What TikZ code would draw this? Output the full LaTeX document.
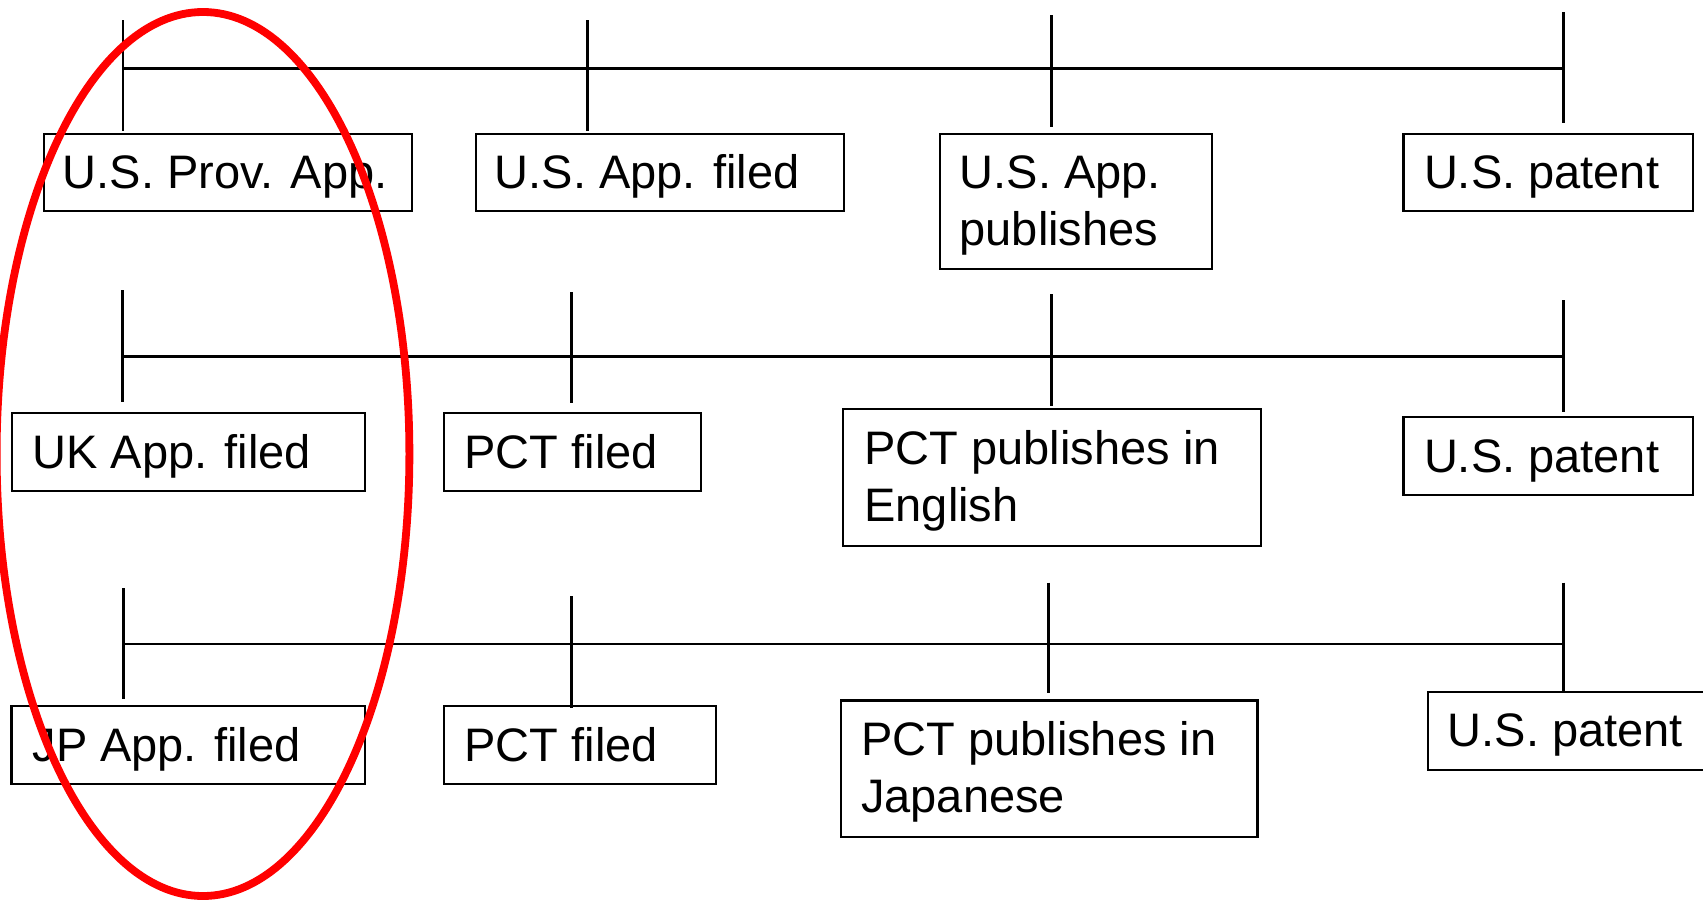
\documentclass[tikz,border=0pt]{standalone}
\usepackage{fontspec}
\setmainfont{Liberation Sans}
\begin{document}
\begin{tikzpicture}[x=1pt,y=-1pt,
  box/.style={draw=black, line width=2.2, inner sep=0, anchor=north west},
  lbl/.style={anchor=base west, inner sep=0, font=\fontsize{47}{56}\selectfont},
  tl/.style={line width=2.6, black},
  ring/.style={draw=red, line width=7.8}]
\useasboundingbox (0,0) rectangle (1703,900);
% ---------- row 1 ----------
\coordinate (r1s) at (123,68.5); \coordinate (r1e) at (1563.5,68.5);
\draw[tl] (r1s) -- (r1e);
\coordinate (t11a) at (123,20);   \coordinate (t11b) at (123,131);
\coordinate (t12a) at (587.5,20); \coordinate (t12b) at (587.5,131);
\coordinate (t13a) at (1051.5,15);\coordinate (t13b) at (1051.5,127);
\coordinate (t14a) at (1563.5,12);\coordinate (t14b) at (1563.5,123);
\draw[tl] (t11a) -- (t11b); \draw[tl] (t12a) -- (t12b);
\draw[tl] (t13a) -- (t13b); \draw[tl] (t14a) -- (t14b);
\node[box, minimum width=368, minimum height=77.5] (a1) at (42.5,132.5) {};
\node[lbl] (a1t) at ([shift={(20,56)}]a1.north west) {U.S. Prov. App.};
\node[box, minimum width=368.5, minimum height=77.5] (a2) at (474.5,132.5) {};
\node[lbl] (a2t) at ([shift={(20,56)}]a2.north west) {U.S. App. filed};
\node[box, minimum width=272.5, minimum height=135] (a3) at (938.5,132.5) {};
\node[lbl] (a3t) at ([shift={(21,56)}]a3.north west) {U.S. App.};
\node[lbl] (a3u) at ([shift={(21,113)}]a3.north west) {publishes};
\node[box, minimum width=289.5, minimum height=77.5] (a4) at (1402.3,132.5) {};
\node[lbl] (a4t) at ([shift={(21.5,56)}]a4.north west) {U.S. patent};
% ---------- row 2 ----------
\coordinate (r2s) at (122.5,356.5); \coordinate (r2e) at (1563.5,356.5);
\draw[tl] (r2s) -- (r2e);
\coordinate (t21a) at (122.5,290);  \coordinate (t21b) at (122.5,401.7);
\coordinate (t22a) at (571.4,292);  \coordinate (t22b) at (571.4,403);
\coordinate (t23a) at (1051.5,294); \coordinate (t23b) at (1051.5,405.7);
\coordinate (t24a) at (1563.5,300); \coordinate (t24b) at (1563.5,411.7);
\draw[tl] (t21a) -- (t21b); \draw[tl] (t22a) -- (t22b);
\draw[tl] (t23a) -- (t23b); \draw[tl] (t24a) -- (t24b);
\node[box, minimum width=353, minimum height=78.3] (b1) at (10.7,411.7) {};
\node[lbl] (b1t) at ([shift={(21.5,56.6)}]b1.north west) {UK App. filed};
\node[box, minimum width=256.7, minimum height=78.3] (b2) at (442.8,411.7) {};
\node[lbl] (b2t) at ([shift={(21.5,56.6)}]b2.north west) {PCT filed};
\node[box, minimum width=417.8, minimum height=137.3] (b3) at (842.2,407.7) {};
\node[lbl] (b3t) at ([shift={(22,56.6)}]b3.north west) {PCT publishes in};
\node[lbl] (b3u) at ([shift={(22,114)}]b3.north west) {English};
\node[box, minimum width=289.5, minimum height=78.3] (b4) at (1402.3,415.7) {};
\node[lbl] (b4t) at ([shift={(21.5,57)}]b4.north west) {U.S. patent};
% ---------- row 3 ----------
\coordinate (r3s) at (123.5,644); \coordinate (r3e) at (1563.5,644);
\draw[tl] (r3s) -- (r3e);
\coordinate (t31a) at (123.5,588);  \coordinate (t31b) at (123.5,699);
\coordinate (t32a) at (571.4,596);  \coordinate (t32b) at (571.4,707.7);
\coordinate (t33a) at (1048.5,582.7);\coordinate (t33b) at (1048.5,693.3);
\coordinate (t34a) at (1563.5,582.7);\coordinate (t34b) at (1563.5,693);
\draw[tl] (t31a) -- (t31b); \draw[tl] (t32a) -- (t32b);
\draw[tl] (t33a) -- (t33b); \draw[tl] (t34a) -- (t34b);
\node[box, minimum width=353.3, minimum height=78] (c1) at (10.3,705) {};
\node[lbl] (c1t) at ([shift={(22,56.7)}]c1.north west) {JP App. filed};
\node[box, minimum width=272.4, minimum height=78] (c2) at (442.8,705) {};
\node[lbl] (c2t) at ([shift={(21.5,56.7)}]c2.north west) {PCT filed};
\node[box, minimum width=416.3, minimum height=136.7] (c3) at (840,699.3) {};
\node[lbl] (c3t) at ([shift={(21,56.4)}]c3.north west) {PCT publishes in};
\node[lbl] (c3u) at ([shift={(21,113)}]c3.north west) {Japanese};
\node[box, minimum width=277, minimum height=78] (c4) at (1426.7,691) {};
\node[lbl] (c4t) at ([shift={(21,55.7)}]c4.north west) {U.S. patent};
% ---------- red ellipse ----------
\draw[ring] (203,454) ellipse [x radius=206.4, y radius=442];
\end{tikzpicture}
\end{document}
